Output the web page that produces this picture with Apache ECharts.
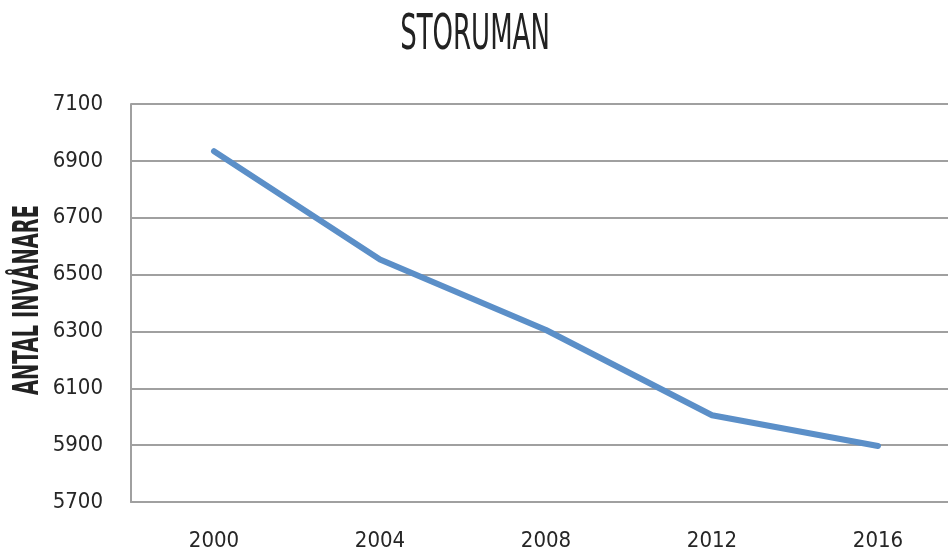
<!DOCTYPE html>
<html>
<head>
<meta charset="utf-8">
<script src="https://cdn.jsdelivr.net/npm/echarts@6/dist/echarts.min.js"></script>
<style>
  html, body { margin: 0; padding: 0; background: #fff; }
  #main { width: 948px; height: 554px; }
</style>
</head>
<body>
<div id="main"></div>
<script>
// data
var years = ['2000', '2004', '2008', '2012', '2016'];
var invanare = [6934, 6553, 6305, 6005, 5897];

var font = "'DejaVu Sans Condensed', 'Liberation Sans Narrow', sans-serif";

var myChart = echarts.init(document.getElementById('main'));

var option = {
  backgroundColor: '#fff',
  animation: false,
  graphic: [
    {
      // title, squeezed to look like the condensed face of the original
      type: 'text',
      x: 475,
      y: 12,
      scaleX: 0.59,
      style: {
        text: 'STORUMAN',
        font: 'normal 49px ' + font,
        fill: '#222',
        align: 'center',
        verticalAlign: 'top'
      }
    },
    {
      // y axis name
      type: 'text',
      x: 29,
      y: 300,
      rotation: Math.PI / 2,
      scaleX: 0.6,
      style: {
        text: 'ANTAL INVÅNARE',
        font: 'bold 36px ' + font,
        fill: '#222',
        align: 'center',
        verticalAlign: 'middle'
      }
    }
  ],
  grid: {
    left: 131,
    right: -13,
    top: 104,
    bottom: 52,
    outerBoundsMode: 'none'
  },
  xAxis: {
    type: 'category',
    data: years,
    boundaryGap: true,
    axisLine: { lineStyle: { color: '#a0a0a0', width: 2 } },
    axisTick: { show: false },
    axisLabel: {
      margin: 28,
      fontFamily: font,
      fontSize: 22,
      color: '#262626'
    }
  },
  yAxis: {
    type: 'value',
    min: 5700,
    max: 7100,
    interval: 200,
    axisLine: { show: true, lineStyle: { color: '#a0a0a0', width: 2 } },
    axisTick: { show: false },
    axisLabel: {
      margin: 28,
      fontFamily: font,
      fontSize: 22,
      color: '#262626',
      formatter: function (v) { return String(v); }
    },
    splitLine: { lineStyle: { color: '#a0a0a0', width: 2 } }
  },
  series: [
    {
      name: 'Storuman',
      type: 'line',
      data: invanare,
      symbol: 'none',
      lineStyle: { color: '#5b8fc8', width: 6, cap: 'round', join: 'round' }
    }
  ]
};

myChart.setOption(option);
</script>
</body>
</html>
